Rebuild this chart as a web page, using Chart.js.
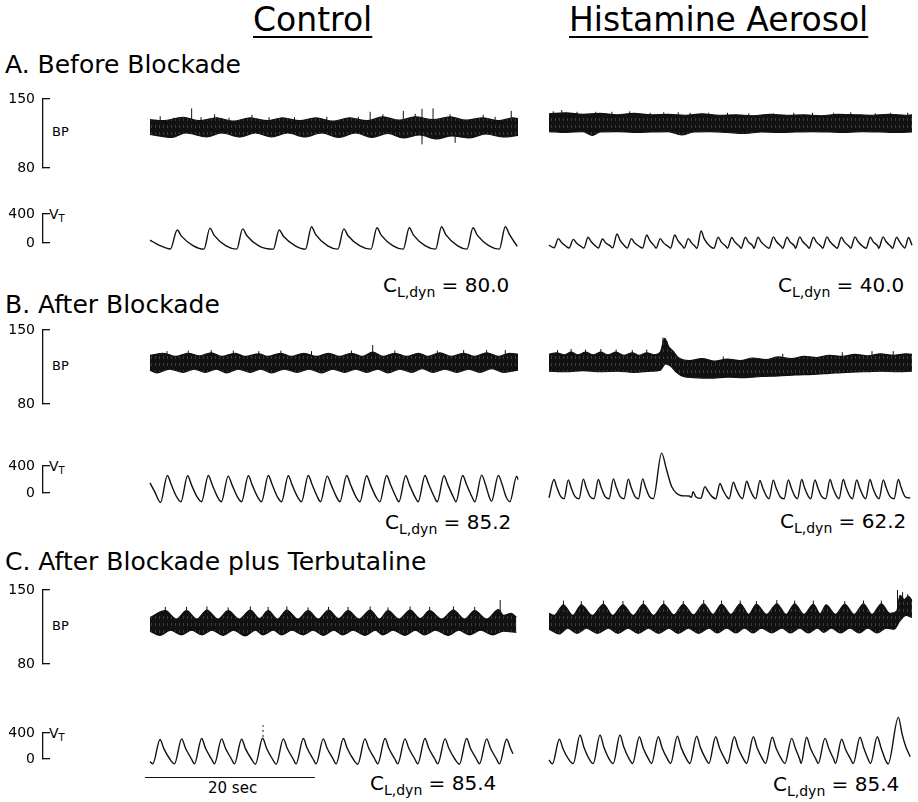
<!DOCTYPE html>
<html>
<head>
<meta charset="utf-8">
<script src="https://cdn.jsdelivr.net/npm/chart.js"></script>
<style>
  html, body { margin: 0; padding: 0; background: #fff; }
  #fig { position: relative; width: 918px; height: 802px; overflow: hidden;
         font-family: "DejaVu Sans", sans-serif; color: #000; background: #fff; }
  #fig canvas { position: absolute; left: 0; }
  .t { position: absolute; white-space: nowrap; line-height: 1; }
  .title { font-size: 33px; text-decoration: underline; text-decoration-thickness: 2px; text-underline-offset: 5px; }
  .panel { font-size: 25px; }
  .lab { font-size: 13px; }
  .lab sub { font-size: 10px; vertical-align: -3px; line-height: 0; }
  .cl { font-size: 20px; }
  .cl sub { font-size: 14px; vertical-align: -5px; line-height: 0; }
  .sec { font-size: 15px; }
</style>
</head>
<body>
<div id="fig">
  <div class="t title" style="left:253px;top:3px">Control</div>
  <div class="t title" style="left:569px;top:3px">Histamine Aerosol</div>

  <div class="t panel" style="left:5px;top:52px">A. Before Blockade</div>
  <div class="t panel" style="left:5px;top:292px">B. After Blockade</div>
  <div class="t panel" style="left:5px;top:549px">C. After Blockade plus Terbutaline</div>

  <div class="t lab" style="left:52px;top:125px">BP</div>
  <div class="t lab" style="left:52px;top:359px">BP</div>
  <div class="t lab" style="left:52px;top:619px">BP</div>
  <div class="t lab" style="left:49px;top:207px;font-size:14px">V<sub>T</sub></div>
  <div class="t lab" style="left:49px;top:459px;font-size:14px">V<sub>T</sub></div>
  <div class="t lab" style="left:49px;top:726px;font-size:14px">V<sub>T</sub></div>

  <div class="t cl" style="left:383px;top:275px">C<sub>L,dyn</sub> = 80.0</div>
  <div class="t cl" style="left:778px;top:275px">C<sub>L,dyn</sub> = 40.0</div>
  <div class="t cl" style="left:385px;top:512px">C<sub>L,dyn</sub> = 85.2</div>
  <div class="t cl" style="left:780px;top:511px">C<sub>L,dyn</sub> = 62.2</div>
  <div class="t cl" style="left:370px;top:773px">C<sub>L,dyn</sub> = 85.4</div>
  <div class="t cl" style="left:773px;top:774px">C<sub>L,dyn</sub> = 85.4</div>

  <div class="t sec" style="left:208px;top:781px">20 sec</div>
</div>

<script>
// ---------- data (time in s from start of each trace; BP in mmHg, VT in mL) ----------

// A. Before blockade - blood pressure envelopes [t, mmHg] and spikes [t, low, high]
const bpA_ctrl_top = [[0,129],[1.5,128],[3.9,131.5],[5.8,128],[7.8,131],[9.8,127.5],[11.8,131],[13.8,128],[15.6,131],[17.6,128],[19.5,131],[21.5,127.5],[23.5,131],[25.5,128],[27.4,132],[29.3,128.5],[31.2,132],[33.3,129],[35.3,132],[37.2,128.5],[39.2,131],[41.0,128],[42.7,131],[43.3,130]];
const bpA_ctrl_bot = [[0,114],[2.55,111],[4.2,115.5],[6.67,111.5],[8.4,115.5],[10.6,111.5],[12.4,115.5],[14.3,111.5],[16.2,115.5],[18.2,111.5],[20.2,115.5],[22.2,111],[24.2,115.5],[26.1,111],[28.0,115],[29.8,110.5],[31.7,113.5],[33.7,109.5],[35.5,112.5],[37.6,110.5],[39.5,114.5],[41.5,111.5],[43.3,113]];
const bpA_ctrl_spikes = [[4.9,125,140.5],[7.6,126,134.5],[12.0,126,134],[25.9,125,137],[29.8,126,138],[32.0,104,140],[33.3,125,140.5],[35.9,105.5,113],[42.5,126,138],
  [1.2,125,132.5],[2.8,124,131],[6.0,124,131.5],[9.3,124,131],[14.0,124,131.5],[17.0,124,131.5],[20.8,124,132],[24.5,124,132],[27.4,126,134.5],[31.2,126,135],[35.3,126,134.5],[39.2,126,134],[40.6,124,132]];

const bpA_hist_top = [[0,135],[2,136],[4,134.5],[6,135.5],[8,134],[10,135.5],[12,134],[14,134.5],[16,133.5],[18,135],[20,133.5],[22,134],[24,133],[26,134.5],[28,133.5],[30,134],[32,133],[34,134.5],[36,134],[38,133.5],[40,134.5],[42,133.5],[42.7,134]];
const bpA_hist_bot = [[0,117],[2,116],[4,117],[5.1,113],[6,116.5],[8,117],[10,116],[12,116.5],[14,117],[15.6,113.5],[17,116.5],[19,117],[21,116],[23,115],[25,116.5],[27,116],[29,116.5],[31,117],[33,116.5],[35,116],[37,117],[39,116.5],[41,116],[42.7,116.5]];
const bpA_hist_spikes = [[1.5,130,138.8],[3.3,130,137],[7.4,130,137],[11.9,130,136],[18.8,130,136],[26.4,130,135.5],[28.8,130,136],[38.4,130,135.5],
  [0.5,130,137.5],[5.5,130,137],[9.5,130,137.5],[13.5,130,136.5],[15.2,130,136.5],[16.6,130,136],[21.0,130,136],[23.5,130,135.5],[31.0,130,136],[33.5,130,136],[35.5,130,136.5],[40.2,130,136],[42.2,130,136]];

// A. tidal volume [t, mL]
const vtA_ctrl = [[0,40],[1.0,-25],[2.4,-82],[3.2,180],[3.7,95],[5.1,-40],[6.35,-85],[7.05,205],[7.55,105],[8.95,-40],[10.2,-85],[10.9,195],[11.4,100],[12.8,-40],[14.5,-85],[15.2,180],[15.7,92],[17.1,-40],[18.3,-85],[19.0,225],[19.5,115],[20.9,-40],[22.1,-85],[22.8,195],[23.3,100],[24.7,-40],[26.0,-85],[26.7,210],[27.2,108],[28.6,-40],[29.8,-85],[30.5,210],[31.0,108],[32.4,-40],[33.6,-85],[34.3,225],[34.8,115],[36.2,-40],[37.3,-85],[38.0,210],[38.5,108],[39.9,-40],[41.1,-85],[41.8,225],[42.3,115],[43.2,-45]];
const vtA_hist = [[0,-30],[0.6,-65],[1.1,60],[1.45,10],[2.0,-45],[2.36,-70],[2.86,50],[3.2,5],[3.76,-45],[4.1,-70],[4.6,80],[4.95,20],[5.5,-45],[5.8,-70],[6.3,55],[6.65,5],[7.2,-40],[7.5,-65],[8.0,125],[8.35,40],[8.9,-40],[9.2,-70],[9.7,60],[10.05,5],[10.6,-45],[11.0,-70],[11.5,110],[11.85,35],[12.4,-40],[12.6,-70],[13.1,60],[13.45,5],[14.0,-45],[14.3,-70],[14.8,110],[15.15,35],[15.7,-40],[15.9,-70],[16.4,60],[16.75,5],[17.2,-50],[17.4,-72],[17.9,165],[18.25,60],[18.9,-40],[19.4,-72],[19.9,80],[20.25,15],[20.8,-45],[21.0,-72],[21.5,75],[21.85,15],[22.4,-45],[22.6,-72],[23.1,80],[23.45,15],[24.0,-45],[24.1,-72],[24.6,80],[24.95,15],[25.5,-45],[25.9,-72],[26.4,85],[26.75,20],[27.3,-45],[27.5,-72],[28.0,80],[28.35,15],[28.9,-45],[29.0,-72],[29.5,85],[29.85,20],[30.4,-45],[30.6,-72],[31.1,80],[31.45,15],[32.0,-45],[32.2,-72],[32.7,85],[33.05,20],[33.6,-45],[33.9,-72],[34.4,80],[34.75,15],[35.3,-45],[35.5,-72],[36.0,85],[36.35,20],[36.9,-45],[37.3,-72],[37.8,80],[38.15,15],[38.7,-45],[38.8,-72],[39.3,85],[39.65,20],[40.2,-45],[40.4,-72],[40.9,80],[41.25,15],[41.6,-40],[41.85,-70],[42.3,75],[42.7,-30]];

// B. After blockade
const bpB_ctrl_top = [[0,126],[1.6,128],[3.0,125],[4.5,128],[5.8,125.5],[7.2,128.5],[8.4,125],[10,128],[11.2,125],[12.8,127.5],[13.8,125],[15.4,128],[16.6,125],[18.1,128],[19.6,125],[21,128],[22.3,125],[23.7,128],[25,125],[26.2,129],[27.4,125],[28.8,128],[30.2,125],[31.6,128],[32.7,125],[34.1,128.5],[35.4,125],[36.9,128],[38.2,125],[39.6,128.5],[41,125],[42.3,128],[43.3,127]];
const bpB_ctrl_bot = [[0,112],[0.8,109.5],[2.3,113],[3.9,110],[5.2,113],[6.5,110],[7.8,113],[9.0,109.5],[10.4,113],[11.8,110],[13,113],[14.3,109.5],[15.8,113],[17.3,110],[18.7,113],[20.2,109.5],[21.5,113],[22.9,110],[24.2,113],[25.5,110],[26.8,113],[28,109.5],[29.4,113],[30.8,110],[32,113.5],[33.3,110],[34.7,113],[36.1,110],[37.5,113],[38.8,110],[40.2,113.5],[41.6,110],[43.3,112]];
const bpB_ctrl_spikes = [[26.2,124,135.8],[2.0,124,130],[9.8,124,130.5],[19.0,124,130],[33.8,124,130.5],[41.8,124,131],
  [4.5,124,130.5],[7.2,124,131],[12.8,124,130],[15.4,124,130.5],[23.7,124,130.5],[28.8,124,130.5],[36.9,124,131],[39.6,124,131]];

const bpB_hist_top = [[0,127],[0.9,128.5],[1.8,126.5],[2.6,129],[3.4,126.5],[4.3,129],[5.2,126.5],[6.1,129],[6.9,126.5],[7.9,129],[8.8,126],[9.8,128.5],[10.6,126],[11.5,128.5],[12.4,126.5],[13.1,129],[13.6,142],[14.1,134],[14.6,130],[15.2,124],[16.5,121],[18,123],[19.5,120.5],[21,122.5],[22.5,121],[24,123.5],[25.5,122],[27,124.5],[28.5,123],[30,125],[31.5,124],[33,126],[34.5,125],[36,127],[37.5,125.5],[39,127.5],[40.5,126],[42,127.5],[42.7,127]];
const bpB_hist_bot = [[0,111],[2,110.5],[4,111.5],[6,110.5],[8,111],[10,110],[12,111],[13.1,112],[13.7,118],[14.3,116],[15,110],[15.8,106],[17,105],[19,104.5],[21,105.5],[23,105],[25,106],[27,106.5],[29,107.5],[31,108],[33,109],[35,110],[37,110.5],[39,111],[41,110.5],[42.7,111]];
const bpB_hist_spikes = [[13.4,128,143],[13.9,128,139],
  [1.0,124,131],[2.6,124,132],[4.3,124,131.5],[6.1,124,132],[7.9,124,131.5],[9.8,124,131],[11.5,124,131.5],[20.5,118,125],[27.5,120,127.5],[34.5,122,129],[38.0,123,130],[40.5,123,130]];

const vtB_ctrl = [[0,150],[0.55,20],[1.24,-140],[2.04,260],[2.5,125],[3.15,-60],[3.63,-130],[4.43,255],[4.88,120],[5.55,-60],[6.06,-130],[6.86,260],[7.31,125],[7.95,-60],[8.4,-130],[9.2,250],[9.65,120],[10.3,-60],[10.77,-130],[11.57,255],[12.02,120],[12.67,-60],[13.12,-130],[13.92,260],[14.37,125],[15.0,-60],[15.47,-130],[16.27,255],[16.72,120],[17.37,-60],[17.82,-130],[18.62,260],[19.07,125],[19.7,-60],[20.06,-130],[20.86,250],[21.31,120],[21.95,-60],[22.34,-130],[23.14,260],[23.59,125],[24.24,-60],[24.69,-130],[25.49,255],[25.94,120],[26.6,-60],[27.04,-130],[27.84,260],[28.29,125],[28.94,-60],[29.28,-130],[30.08,255],[30.53,120],[31.18,-60],[31.55,-130],[32.35,260],[32.8,125],[33.45,-60],[33.79,-130],[34.59,255],[35.04,120],[35.69,-60],[35.99,-130],[36.79,260],[37.24,125],[37.89,-60],[38.22,-130],[39.02,265],[39.47,125],[39.9,-55],[40.18,-120],[40.98,260],[41.43,125],[41.9,-60],[42.34,-130],[43.14,250],[43.3,200]];
const vtB_hist = [[0,-70],[0.59,200],[0.92,85],[1.39,-55],[1.77,-85],[2.27,195],[2.6,80],[3.07,-55],[3.54,-85],[4.04,205],[4.37,85],[4.84,-55],[5.3,-85],[5.8,200],[6.13,85],[6.6,-55],[7.07,-85],[7.57,210],[7.9,90],[8.37,-55],[8.83,-85],[9.33,205],[9.66,85],[10.13,-55],[10.52,-85],[11.02,210],[11.35,90],[11.82,-55],[12.27,-85],[13.25,590],[13.84,340],[14.43,95],[15.0,-5],[15.6,-40],[16.5,-45],[16.75,-65],[16.95,20],[17.3,-60],[17.85,-80],[18.35,95],[18.68,30],[19.15,-50],[19.62,-85],[20.12,140],[20.45,50],[20.92,-55],[21.19,-85],[21.69,160],[22.02,60],[22.49,-55],[22.76,-85],[23.26,175],[23.59,70],[24.06,-55],[24.32,-85],[24.82,185],[25.15,75],[25.62,-55],[25.89,-85],[26.39,190],[26.72,75],[27.19,-55],[27.66,-85],[28.16,195],[28.49,80],[28.96,-55],[29.23,-85],[29.73,200],[30.06,80],[30.53,-55],[30.79,-85],[31.29,195],[31.62,80],[32.09,-55],[32.56,-85],[33.06,200],[33.39,80],[33.86,-55],[34.12,-85],[34.62,200],[34.95,80],[35.42,-55],[35.7,-85],[36.2,195],[36.53,80],[37.0,-55],[37.26,-85],[37.76,200],[38.09,80],[38.56,-55],[38.83,-85],[39.33,195],[39.66,80],[40.13,-55],[40.6,-85],[41.1,200],[41.43,80],[41.9,-55],[42.5,-75]];

// C. After blockade plus terbutaline
const bpC_ctrl_top = [[0,124],[1.8,130.5],[3.1,122.5],[4.3,130.5],[5.5,122.5],[6.7,131],[8,122.5],[9.2,130.5],[10.5,122.5],[11.8,131],[12.9,123],[13.9,130.5],[15,122.5],[16.1,131],[17.4,122.5],[18.6,130.5],[19.8,122.5],[21,131],[22.2,123],[23.3,130.5],[24.6,122.5],[25.9,131],[27,122.5],[28,130.5],[29.3,122.5],[30.6,131],[31.8,123],[32.9,130.5],[34.3,122.5],[35.7,131],[37,122.5],[38.2,130.5],[39.6,122.5],[41,131.5],[41.6,126],[42.5,128],[43.1,124]];
const bpC_ctrl_bot = [[0,111],[1.2,107],[2.4,112],[3.7,107.5],[4.9,112],[6.1,107.5],[7.3,112],[8.6,107],[9.8,112],[11.2,106.5],[12.4,112],[13.3,107.5],[14.5,112],[15.5,107.5],[16.7,112],[18,107.5],[19.2,112],[20.4,107],[21.6,112],[22.7,107.5],[23.9,112],[25.3,107],[26.5,112],[27.4,107.5],[28.6,112],[30,107],[31.2,112],[32.3,107.5],[33.6,112],[35.1,107],[36.3,112],[37.6,107.5],[38.9,112],[40.3,107.5],[41.6,111],[43.1,110]];
const bpC_ctrl_spikes = [[41.2,125,140.5],[1.8,128,134],[11.8,128,134.5],[21.0,128,134],[30.6,128,134.5],
  [4.3,128,134],[6.7,128,134.5],[9.2,128,133.5],[13.9,128,134],[16.1,128,134.5],[18.6,128,133.5],[23.3,128,134],[25.9,128,134.5],[28.0,128,133.5],[32.9,128,134],[35.7,128,134.5],[38.2,128,134]];

const bpC_hist_top = [[0,128],[0.6,126],[1.7,136],[2.8,126],[3.8,136],[5.1,126],[6.4,136.5],[7.5,126],[8.7,136],[9.9,126],[11.1,136.5],[12.3,126],[13.5,136.5],[14.7,126.5],[15.8,136.5],[17,126.5],[18.2,137],[19.3,127],[20.3,136.5],[21.4,127],[22.5,137],[23.5,127],[24.4,136.5],[25.6,127],[26.8,137],[27.9,127],[28.9,137],[30,127],[31.1,136.5],[31.9,127.5],[32.6,136],[33.7,127],[34.8,136.5],[35.9,127],[37,137],[38,127],[39.1,137],[40.1,128],[40.9,130],[41.3,145],[41.8,141],[42.3,144],[42.7,140]];
const bpC_hist_bot = [[0,113],[1.2,108.5],[2.2,114],[3.3,109],[4.4,114],[5.7,109],[7,114],[8.1,109],[9.3,114],[10.5,109],[11.7,114],[12.9,109],[14.1,114],[15.2,109],[16.4,114],[17.6,109],[18.8,114],[19.8,109.5],[20.9,114],[22,109.5],[23,114],[24,109.5],[25,114],[26.2,109.5],[27.4,114],[28.4,109.5],[29.5,114],[30.5,109.5],[31.6,114],[32.3,110],[33.2,114],[34.3,109.5],[35.4,114],[36.5,109.5],[37.5,114],[38.6,109.5],[39.7,114],[40.6,113],[41.3,121],[42,126],[42.7,124]];
const bpC_hist_spikes = [[41.0,135,150],[41.6,135,148],[42.2,133,146],
  [1.7,130,140],[3.8,130,139.5],[6.4,130,140],[8.7,130,139.5],[11.1,130,140],[13.5,130,140],[15.8,130,139.5],[18.2,130,140.5],[20.3,130,140],[22.5,130,140],[24.4,130,139.5],[26.8,130,140.5],[28.9,130,140],[31.1,130,140],[34.8,130,139.5],[37.0,130,140],[39.1,130,140]];

const vtC_ctrl = [[0,-40],[0.33,-75],[1.18,300],[1.63,160],[2.33,0],[2.88,-75],[3.73,310],[4.18,165],[4.88,0],[5.23,-75],[6.08,315],[6.53,165],[7.23,0],[7.58,-75],[8.43,310],[8.88,165],[9.58,0],[9.93,-75],[10.78,305],[11.23,160],[11.93,0],[12.4,-80],[13.25,320],[13.7,170],[14.4,0],[14.84,-80],[15.69,310],[16.14,165],[16.84,0],[17.19,-75],[18.04,315],[18.49,165],[19.19,0],[19.54,-75],[20.39,310],[20.84,165],[21.54,0],[21.9,-75],[22.75,315],[23.2,165],[23.9,0],[24.44,-80],[25.29,310],[25.74,165],[26.44,0],[26.8,-75],[27.65,315],[28.1,165],[28.8,0],[29.15,-75],[30.0,310],[30.45,165],[31.15,0],[31.5,-75],[32.35,315],[32.8,165],[33.5,0],[33.86,-75],[34.71,310],[35.16,165],[35.86,0],[36.4,-80],[37.25,315],[37.7,165],[38.4,0],[38.76,-75],[39.61,310],[40.06,165],[40.76,0],[41.11,-75],[41.96,305],[42.41,165],[42.7,80]];
const vtC_hist = [[0,-15],[0.4,-75],[1.22,303],[1.67,150],[2.32,-5],[2.85,-70],[3.65,369],[4.1,185],[4.75,-5],[5.2,-70],[6.0,369],[6.45,185],[7.1,-5],[7.55,-70],[8.35,369],[8.8,185],[9.45,-5],[9.83,-70],[10.63,343],[11.08,170],[11.73,-5],[12.06,-70],[12.86,343],[13.31,170],[13.96,-5],[14.3,-70],[15.1,350],[15.55,175],[16.2,-5],[16.57,-70],[17.37,350],[17.82,175],[18.47,-5],[18.81,-70],[19.61,343],[20.06,170],[20.71,-5],[21.0,-70],[21.8,343],[22.25,170],[22.9,-5],[23.24,-70],[24.04,343],[24.49,170],[25.14,-5],[25.47,-70],[26.27,335],[26.72,165],[27.37,-5],[27.75,-70],[28.55,318],[29.0,160],[29.5,-5],[29.65,-70],[30.31,335],[30.76,165],[31.41,-5],[31.67,-70],[32.47,318],[32.92,160],[33.5,-5],[33.7,-70],[34.43,303],[34.88,150],[35.5,-5],[35.79,-70],[36.59,335],[37.04,165],[37.55,-5],[37.82,-70],[38.62,343],[39.07,170],[39.6,-20],[39.9,-77],[41.1,641],[41.55,380],[42.0,180],[42.5,35]];

// event mark on control VT trace of panel C [t, low mL, high mL]
const vtC_ctrl_event = [13.3, 340, 520];
// time calibration bar
const scaleBarSec = 20;

// axis scale bars: [low, high] values labelled on the left
const bpScale = [80, 150];
const vtScale = [0, 400];

// ---------- layout (page pixels) ----------
const PAGE_W = 918, AXIS_X = 43, CTRL_X0 = 150, HIST_X0 = 549, PX_PER_SEC = 8.5, PAD = 30;
const X_MIN = -(CTRL_X0 - AXIS_X) / PX_PER_SEC;
const X_MAX = X_MIN + (PAGE_W - AXIS_X) / PX_PER_SEC;
const HIST_SHIFT = (HIST_X0 - CTRL_X0) / PX_PER_SEC;
const SCALE_BAR_Y = 777, SCALE_BAR_START = -0.6;
const FONT = '"DejaVu Sans", sans-serif';
const INK = '#111';

const rows = [
  {kind: 'bp', scale: bpScale, yHi: 99,  yLo: 168, ctrl: {top: bpA_ctrl_top, bot: bpA_ctrl_bot, spikes: bpA_ctrl_spikes}, hist: {top: bpA_hist_top, bot: bpA_hist_bot, spikes: bpA_hist_spikes}},
  {kind: 'vt', scale: vtScale, yHi: 214, yLo: 243, ctrl: vtA_ctrl, hist: vtA_hist},
  {kind: 'bp', scale: bpScale, yHi: 330, yLo: 404, ctrl: {top: bpB_ctrl_top, bot: bpB_ctrl_bot, spikes: bpB_ctrl_spikes}, hist: {top: bpB_hist_top, bot: bpB_hist_bot, spikes: bpB_hist_spikes}},
  {kind: 'vt', scale: vtScale, yHi: 466, yLo: 493, ctrl: vtB_ctrl, hist: vtB_hist},
  {kind: 'bp', scale: bpScale, yHi: 590, yLo: 664, ctrl: {top: bpC_ctrl_top, bot: bpC_ctrl_bot, spikes: bpC_ctrl_spikes}, hist: {top: bpC_hist_top, bot: bpC_hist_bot, spikes: bpC_hist_spikes}},
  {kind: 'vt', scale: vtScale, yHi: 733, yLo: 759, ctrl: vtC_ctrl, hist: vtC_hist, last: true}
];

function pts(arr, shift) {
  return arr.map(([t, v]) => ({x: t + shift, y: v}));
}
function spikePts(arr, shift) {
  return arr.slice().sort((a, b) => a[0] - b[0])
    .flatMap(([t, lo, hi]) => [{x: t + shift, y: lo}, {x: t + shift, y: hi}, {x: t + shift, y: null}]);
}

// striped fill so the dense pressure trace looks like the original recording
function bandPattern(ctx) {
  const c = document.createElement('canvas');
  c.width = 4; c.height = 7;
  const g = c.getContext('2d');
  g.fillStyle = INK; g.fillRect(0, 0, 4, 7);
  g.fillStyle = '#3c3c3c'; g.fillRect(3, 0, 1, 3);
  return ctx.createPattern(c, 'repeat');
}

function bpSets(d, shift, pat) {
  return [
    {data: pts(d.bot, shift), borderWidth: 1.2, borderColor: INK, fill: false},
    {data: pts(d.top, shift), borderWidth: 1.2, borderColor: INK, fill: '-1', backgroundColor: pat},
    {data: spikePts(d.spikes, shift), borderWidth: 1, borderColor: INK, tension: 0, cubicInterpolationMode: 'default', spanGaps: false}
  ];
}

const scaleBarPlugin = {
  id: 'scaleBar',
  afterDatasetsDraw(chart) {
    const {ctx, scales: {x}} = chart;
    const y = SCALE_BAR_Y - chart.canvas.offsetTop;
    ctx.save();
    ctx.strokeStyle = INK;
    ctx.lineWidth = 1;
    ctx.beginPath();
    ctx.moveTo(x.getPixelForValue(SCALE_BAR_START), y + 0.5);
    ctx.lineTo(x.getPixelForValue(SCALE_BAR_START + scaleBarSec), y + 0.5);
    ctx.stroke();
    ctx.restore();
  }
};

const fig = document.getElementById('fig');

rows.forEach(r => {
  const cv = document.createElement('canvas');
  cv.width = PAGE_W;
  cv.height = (r.yLo - r.yHi) + 2 * PAD;
  cv.style.top = (r.yHi - PAD) + 'px';
  fig.appendChild(cv);
  const ctx = cv.getContext('2d');

  let datasets;
  if (r.kind === 'bp') {
    const pat = bandPattern(ctx);
    datasets = bpSets(r.ctrl, 0, pat).concat(bpSets(r.hist, HIST_SHIFT, pat));
  } else {
    datasets = [
      {data: pts(r.ctrl, 0), borderWidth: 1.4, borderColor: INK},
      {data: pts(r.hist, HIST_SHIFT), borderWidth: 1.4, borderColor: INK}
    ];
    if (r.last) {
      datasets.push({
        data: [{x: vtC_ctrl_event[0], y: vtC_ctrl_event[1]}, {x: vtC_ctrl_event[0], y: vtC_ctrl_event[2]}],
        borderWidth: 1, borderColor: INK, borderDash: [2, 3], tension: 0, cubicInterpolationMode: 'default'
      });
    }
  }

  const [lo, hi] = r.scale;
  new Chart(ctx, {
    type: 'line',
    data: {datasets},
    options: {
      responsive: false,
      animation: false,
      events: [],
      layout: {padding: {top: PAD, bottom: PAD, left: 0, right: 0}},
      plugins: {legend: {display: false}, tooltip: {enabled: false}, colors: {enabled: false}},
      datasets: {line: {clip: false, pointRadius: 0, cubicInterpolationMode: 'monotone'}},
      scales: {
        x: {type: 'linear', display: false, min: X_MIN, max: X_MAX},
        y: {
          type: 'linear', position: 'left', min: lo, max: hi,
          afterFit: s => { s.width = AXIS_X; },
          afterBuildTicks: s => { s.ticks = [{value: lo}, {value: hi}]; },
          ticks: {padding: 15, color: '#000', font: {family: FONT, size: 14}},
          grid: {drawOnChartArea: false, tickLength: -7, color: INK, lineWidth: 1.3},
          border: {display: true, color: INK, width: 1.3}
        }
      }
    },
    plugins: r.last ? [scaleBarPlugin] : []
  });
});
</script>
</body>
</html>
